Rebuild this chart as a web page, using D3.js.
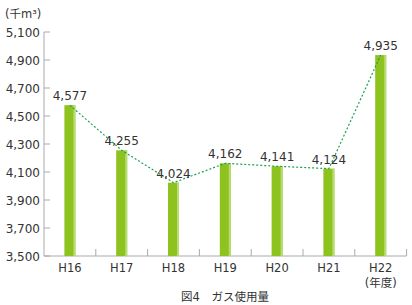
<!DOCTYPE html>
<html><head><meta charset="utf-8">
<script src="https://cdn.jsdelivr.net/npm/d3@7"></script>
<style>body{margin:0;background:#fff}svg{display:block}text{font-family:"DejaVu Sans","Noto Sans CJK JP",sans-serif;fill:#333}</style>
</head><body><svg id="c" width="412" height="305"></svg>
<script>
const categories = ["H16","H17","H18","H19","H20","H21","H22"];
const values = [4577,4255,4024,4162,4141,4124,4935];
const yTicks = [3500,3700,3900,4100,4300,4500,4700,4900,5100];
const unitLabel = "(千m³)";
const yearLabel = "(年度)";
const title = "図4　ガス使用量";

const svg = d3.select("#c");
const x = d3.scaleBand().domain(categories).range([44, 406.6]);
const y = d3.scaleLinear().domain([3500, 5100]).range([256, 32]);
const fmt = d3.format(",");

// y axis
svg.append("line").attr("x1",44).attr("x2",44).attr("y1",y(5100)).attr("y2",y(3500)).attr("stroke","#aaa");
yTicks.forEach(t=>{
  svg.append("line").attr("x1",44).attr("x2",50).attr("y1",y(t)).attr("y2",y(t)).attr("stroke","#aaa");
  svg.append("text").attr("x",40).attr("y",y(t)+4.5).attr("text-anchor","end").attr("font-size",12).text(fmt(t));
});
// x axis
svg.append("line").attr("x1",44).attr("x2",406.6).attr("y1",256).attr("y2",256).attr("stroke","#aaa");
categories.forEach((c,i)=>{
  const bx = x(c)+x.bandwidth();
  svg.append("line").attr("x1",bx).attr("x2",bx).attr("y1",249).attr("y2",256).attr("stroke","#aaa");
  svg.append("text").attr("x",x(c)+x.bandwidth()/2).attr("y",272).attr("text-anchor","middle").attr("font-size",11.5).text(c);
});

const bw = 11;
const cx = c => x(c)+x.bandwidth()/2;
// bars
const g = svg.append("g");
categories.forEach((c,i)=>{
  g.append("rect").attr("x",cx(c)-bw/2).attr("y",y(values[i])).attr("width",bw).attr("height",256-y(values[i])).attr("fill","#8dc21f");
  g.append("rect").attr("x",cx(c)+bw/2-2).attr("y",y(values[i])).attr("width",2).attr("height",256-y(values[i])).attr("fill","#b8dc74");
});
// line
const line = d3.line().x((d,i)=>cx(categories[i])).y(d=>y(d));
svg.append("path").attr("d",line(values)).attr("fill","none").attr("stroke","#1aa055").attr("stroke-width",1.2).attr("stroke-dasharray","2,2");
// value labels
categories.forEach((c,i)=>{
  svg.append("text").attr("x",cx(c)).attr("y",y(values[i])-5).attr("text-anchor","middle").attr("font-size",12).text(fmt(values[i]));
});
svg.append("text").attr("x",5).attr("y",18).attr("font-size",11.5).text(unitLabel);
svg.append("text").attr("x",cx("H22")).attr("y",287).attr("text-anchor","middle").attr("font-size",11.5).text(yearLabel);
svg.append("text").attr("x",225).attr("y",301).attr("text-anchor","middle").attr("font-size",11.5).text(title);
</script></body></html>
